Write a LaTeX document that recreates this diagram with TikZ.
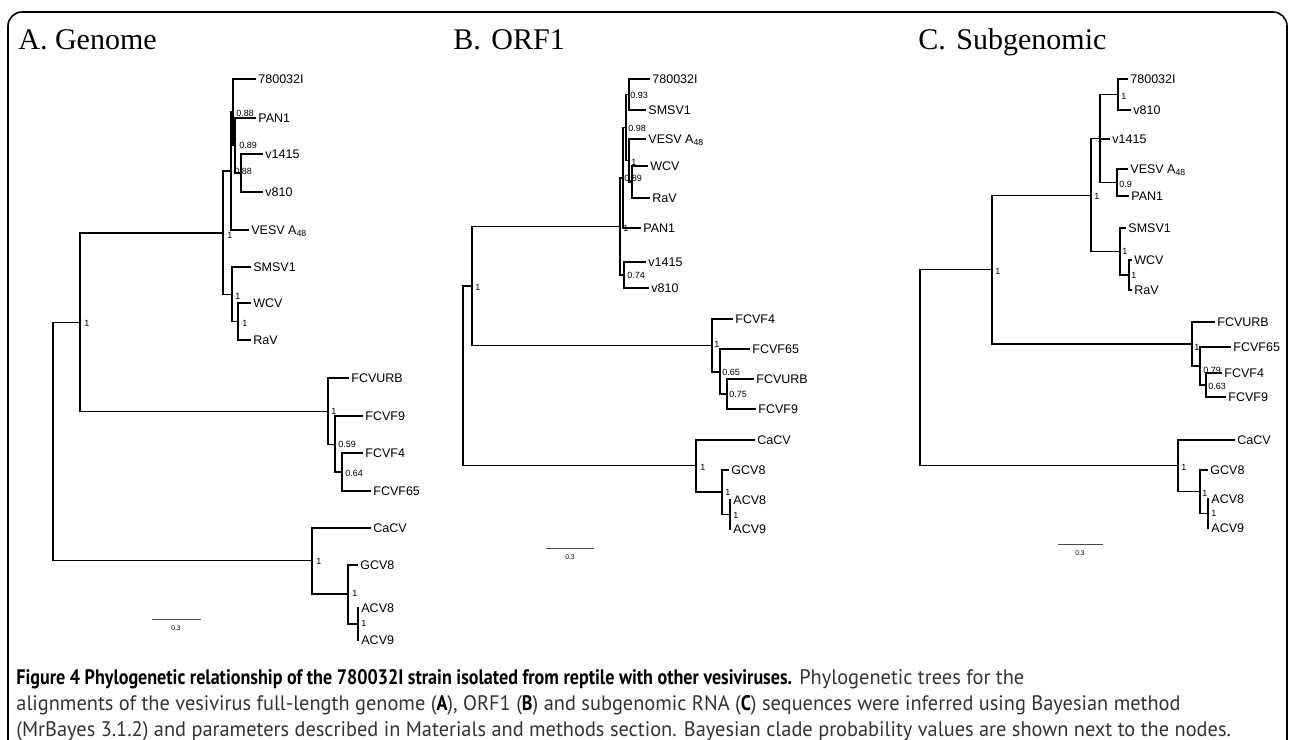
\documentclass[tikz,border=0pt]{standalone}
\usepackage{fontspec}
\setmainfont{Liberation Serif}
\newfontfamily\treefont{Liberation Sans}
\newfontfamily\capfont[FakeStretch=0.97]{PT Sans}
\newfontfamily\capbf[FakeStretch=0.86]{PT Sans Bold}
\tikzset{
  br/.style={line width=0.65pt, line cap=rect},
  taxon/.style={anchor=west, inner sep=1.5pt, text height=4.5pt, text depth=0pt, font=\treefont\fontsize{6.25}{7}\selectfont},
  prob/.style={anchor=west, inner sep=0pt, font=\treefont\fontsize{4.5}{5}\selectfont},
  sbar/.style={line width=0.5pt, black!70},
  slab/.style={inner sep=0pt, font=\treefont\fontsize{3.4}{4}\selectfont},
  paneltitle/.style={anchor=base west, inner sep=0pt, font=\fontsize{15}{17}\selectfont},
  capline/.style={anchor=base west, inner sep=0pt, font=\capfont\fontsize{10.5}{12}\selectfont, text=black!80}
}
\begin{document}
\begin{tikzpicture}[x=0.5pt,y=-0.5pt]
	\useasboundingbox (0,0) rectangle (1293,739);
	\draw[line width=0.8pt, rounded corners=7pt] (8,745) -- (8,12) -- (1287,12) -- (1287,745);
	%
	% A. Genome
	\node[paneltitle] (ttlA) at (18,49) {A. Genome};
	\coordinate (aR0) at (53,441.5);
	\coordinate (aX) at (80,322.5);
	\coordinate (aU) at (223,233);
	\coordinate (aT) at (231,171);
	\coordinate (aP) at (233,112);
	\coordinate (aQ) at (235,145.5);
	\coordinate (aR) at (241,173);
	\coordinate (aS) at (232,294.5);
	\coordinate (aW) at (238,321.5);
	\coordinate (aF) at (328,411.5);
	\coordinate (aG) at (335,444.5);
	\coordinate (aH) at (342,472);
	\coordinate (aC) at (312,560.5);
	\coordinate (aD) at (348,594);
	\coordinate (aE) at (358,624);
	\node[taxon] (a780) at (255,79) {780032I};
	\node[taxon] (aPAN) at (255,118) {PAN1};
	\node[taxon] (a1415) at (262,154) {v1415};
	\node[taxon] (a810) at (262,192) {v810};
	\node[taxon] (aVESV) at (248,230) {VESV A\textsubscript{48}};
	\node[taxon] (aSMSV) at (250,267) {SMSV1};
	\node[taxon] (aWCV) at (250,303) {WCV};
	\node[taxon] (aRaV) at (250,340) {RaV};
	\node[taxon] (aURB) at (348,378) {FCVURB};
	\node[taxon] (aF9) at (362,416) {FCVF9};
	\node[taxon] (aF4) at (362,453) {FCVF4};
	\node[taxon] (aF65) at (370,491) {FCVF65};
	\node[taxon] (aCaCV) at (370,528) {CaCV};
	\node[taxon] (aGCV8) at (357,565) {GCV8};
	\node[taxon] (aACV8) at (358,608) {ACV8};
	\node[taxon] (aACV9) at (358,640) {ACV9};
	%
	\draw[br] (aR0) |- (aX); \draw[br] (aR0) |- (aC);
	\draw[br] (aX) |- (aU); \draw[br] (aX) |- (aF);
	\draw[br] (aU) |- (aT); \draw[br] (aU) |- (aS);
	\draw[br] (aT) |- (aP); \draw[br] (aT) |- (aVESV);
	\draw[br] (aP) |- (a780); \draw[br] (aP) |- (aQ);
	\draw[br] (aQ) |- (aPAN); \draw[br] (aQ) |- (aR);
	\draw[br] (aR) |- (a1415); \draw[br] (aR) |- (a810);
	\draw[br] (aS) |- (aSMSV); \draw[br] (aS) |- (aW);
	\draw[br] (aW) |- (aWCV); \draw[br] (aW) |- (aRaV);
	\draw[br] (aF) |- (aURB); \draw[br] (aF) |- (aG);
	\draw[br] (aG) |- (aF9); \draw[br] (aG) |- (aH);
	\draw[br] (aH) |- (aF4); \draw[br] (aH) |- (aF65);
	\draw[br] (aC) |- (aCaCV); \draw[br] (aC) |- (aD);
	\draw[br] (aD) |- (aGCV8); \draw[br] (aD) |- (aE);
	\draw[br] (aE) |- (aACV8); \draw[br] (aE) |- (aACV9);
	%
	\node[prob] (aXl) at (84,323) {1};
	\node[prob] (aUl) at (227,235) {1};
	\node[prob] (aPl) at (236,113) {0.88};
	\node[prob] (aQl) at (239,145) {0.89};
	\node[prob] (aRl) at (234,171) {0.88};
	\node[prob] (aSl) at (235,296) {1};
	\node[prob] (aWl) at (242,323) {1};
	\node[prob] (aFl) at (331,411) {1};
	\node[prob] (aGl) at (338,444) {0.59};
	\node[prob] (aHl) at (345,473) {0.64};
	\node[prob] (aCl) at (316,561) {1};
	\node[prob] (aDl) at (352,593) {1};
	\node[prob] (aEl) at (361,623) {1};
	\coordinate (aSb1) at (152,619);
	\coordinate (aSb2) at (201,619);
	\draw[sbar] (aSb1) -- (aSb2);
	\node[slab] (aSbl) at (176,628) {0.3};
	%
	% B. ORF1
	\node[paneltitle] (ttlB) at (453,49) {B.\hspace{0.35em}ORF1};
	\coordinate (bR0) at (463,376);
	\coordinate (bB) at (472,286);
	\coordinate (bD) at (620,226.5);
	\coordinate (bC) at (623,178);
	\coordinate (bN) at (626,127.5);
	\coordinate (bA) at (629,94.5);
	\coordinate (bV) at (629,160.5);
	\coordinate (bW) at (632,182);
	\coordinate (bE) at (624,275);
	\coordinate (bF) at (712,345.5);
	\coordinate (bG) at (720,372);
	\coordinate (bH) at (727,394);
	\coordinate (bK) at (696,465.5);
	\coordinate (bL) at (722,492);
	\coordinate (bM) at (730,514.5);
	\node[taxon] (b780) at (649,79) {780032I};
	\node[taxon] (bSMSV) at (645,110) {SMSV1};
	\node[taxon] (bVESV) at (645,139) {VESV A\textsubscript{48}};
	\node[taxon] (bWCV) at (647,166) {WCV};
	\node[taxon] (bRaV) at (649,198) {RaV};
	\node[taxon] (bPAN) at (640,228) {PAN1};
	\node[taxon] (b1415) at (645,262) {v1415};
	\node[taxon] (b810) at (648,288) {v810};
	\node[taxon] (bF4) at (732,319) {FCVF4};
	\node[taxon] (bF65) at (749,349) {FCVF65};
	\node[taxon] (bURB) at (753,379) {FCVURB};
	\node[taxon] (bF9) at (755,409) {FCVF9};
	\node[taxon] (bCaCV) at (754,440) {CaCV};
	\node[taxon] (bGCV8) at (728,470) {GCV8};
	\node[taxon] (bACV8) at (730,500) {ACV8};
	\node[taxon] (bACV9) at (730,529) {ACV9};
	%
	\draw[br] (bR0) |- (bB); \draw[br] (bR0) |- (bK);
	\draw[br] (bB) |- (bD); \draw[br] (bB) |- (bF);
	\draw[br] (bD) |- (bC); \draw[br] (bD) |- (bE);
	\draw[br] (bC) |- (bN); \draw[br] (bC) |- (bPAN);
	\draw[br] (bN) |- (bA); \draw[br] (bN) |- (bV);
	\draw[br] (bA) |- (b780); \draw[br] (bA) |- (bSMSV);
	\draw[br] (bV) |- (bVESV); \draw[br] (bV) |- (bW);
	\draw[br] (bW) |- (bWCV); \draw[br] (bW) |- (bRaV);
	\draw[br] (bE) |- (b1415); \draw[br] (bE) |- (b810);
	\draw[br] (bF) |- (bF4); \draw[br] (bF) |- (bG);
	\draw[br] (bG) |- (bF65); \draw[br] (bG) |- (bH);
	\draw[br] (bH) |- (bURB); \draw[br] (bH) |- (bF9);
	\draw[br] (bK) |- (bCaCV); \draw[br] (bK) |- (bL);
	\draw[br] (bL) |- (bGCV8); \draw[br] (bL) |- (bM);
	\draw[br] (bM) |- (bACV8); \draw[br] (bM) |- (bACV9);
	%
	\node[prob] (bBl) at (475,287) {1};
	\node[prob] (bDl) at (623,228) {1};
	\node[prob] (bCl) at (624,178) {0.89};
	\node[prob] (bNl) at (628,128) {0.98};
	\node[prob] (bAl) at (630,95) {0.93};
	\node[prob] (bVl) at (631,162) {1};
	\node[prob] (bEl) at (627,275) {0.74};
	\node[prob] (bFl) at (714,344) {1};
	\node[prob] (bGl) at (722,372) {0.65};
	\node[prob] (bHl) at (729,394) {0.75};
	\node[prob] (bKl) at (700,467) {1};
	\node[prob] (bLl) at (725,492) {1};
	\node[prob] (bMl) at (733,515) {1};
	\coordinate (bSb1) at (546,548);
	\coordinate (bSb2) at (594,548);
	\draw[sbar] (bSb1) -- (bSb2);
	\node[slab] (bSbl) at (570,557) {0.3};
	%
	% C. Subgenomic
	\node[paneltitle] (ttlC) at (918,49) {C.\hspace{0.35em}Subgenomic};
	\coordinate (cR0) at (920,367.5);
	\coordinate (cX) at (992,269.75);
	\coordinate (cU) at (1091,195.5);
	\coordinate (cP) at (1100,138.5);
	\coordinate (cQ) at (1118,94.5);
	\coordinate (cR) at (1117,182.5);
	\coordinate (cS) at (1120,251.5);
	\coordinate (cW) at (1129,275);
	\coordinate (cF) at (1192,344);
	\coordinate (cG) at (1200,366);
	\coordinate (cH) at (1206,385);
	\coordinate (cK) at (1178,465.5);
	\coordinate (cL) at (1200,491.5);
	\coordinate (cM) at (1208,513.5);
	\node[taxon] (c780) at (1127,79) {780032I};
	\node[taxon] (c810) at (1130,110) {v810};
	\node[taxon] (c1415) at (1109,139) {v1415};
	\node[taxon] (cVESV) at (1127,169) {VESV A\textsubscript{48}};
	\node[taxon] (cPAN) at (1128,196) {PAN1};
	\node[taxon] (cSMSV) at (1125,228) {SMSV1};
	\node[taxon] (cWCV) at (1131,260) {WCV};
	\node[taxon] (cRaV) at (1131,290) {RaV};
	\node[taxon] (cURB) at (1214,322) {FCVURB};
	\node[taxon] (cF65) at (1230,347) {FCVF65};
	\node[taxon] (cF4) at (1221,373) {FCVF4};
	\node[taxon] (cF9) at (1225,397) {FCVF9};
	\node[taxon] (cCaCV) at (1234,440) {CaCV};
	\node[taxon] (cGCV8) at (1207,470) {GCV8};
	\node[taxon] (cACV8) at (1208,499) {ACV8};
	\node[taxon] (cACV9) at (1208,528) {ACV9};
	%
	\draw[br] (cR0) |- (cX); \draw[br] (cR0) |- (cK);
	\draw[br] (cX) |- (cU); \draw[br] (cX) |- (cF);
	\draw[br] (cU) |- (cP); \draw[br] (cU) |- (cS);
	\draw[br] (cP) |- (cQ); \draw[br] (cP) |- (c1415); \draw[br] (cP) |- (cR);
	\draw[br] (cQ) |- (c780); \draw[br] (cQ) |- (c810);
	\draw[br] (cR) |- (cVESV); \draw[br] (cR) |- (cPAN);
	\draw[br] (cS) |- (cSMSV); \draw[br] (cS) |- (cW);
	\draw[br] (cW) |- (cWCV); \draw[br] (cW) |- (cRaV);
	\draw[br] (cF) |- (cURB); \draw[br] (cF) |- (cG);
	\draw[br] (cG) |- (cF65); \draw[br] (cG) |- (cH);
	\draw[br] (cH) |- (cF4); \draw[br] (cH) |- (cF9);
	\draw[br] (cK) |- (cCaCV); \draw[br] (cK) |- (cL);
	\draw[br] (cL) |- (cGCV8); \draw[br] (cL) |- (cM);
	\draw[br] (cM) |- (cACV8); \draw[br] (cM) |- (cACV9);
	%
	\node[prob] (cXl) at (995,271) {1};
	\node[prob] (cUl) at (1094,196) {1};
	\node[prob] (cPl) at (1097,139) {1};
	\node[prob] (cQl) at (1121,96) {1};
	\node[prob] (cRl) at (1119,184) {0.9};
	\node[prob] (cSl) at (1122,251) {1};
	\node[prob] (cWl) at (1131,275) {1};
	\node[prob] (cFl) at (1194,347) {1};
	\node[prob] (cGl) at (1203,370) {0.79};
	\node[prob] (cHl) at (1208,386) {0.63};
	\node[prob] (cKl) at (1181,467) {1};
	\node[prob] (cLl) at (1202,493) {1};
	\node[prob] (cMl) at (1211,513) {1};
	\coordinate (cSb1) at (1058,544);
	\coordinate (cSb2) at (1103,544);
	\draw[sbar] (cSb1) -- (cSb2);
	\node[slab] (cSbl) at (1080,553) {0.3};
	%
	% caption
	\node[capline] (cap1) at (16,684) {{\capbf\color{black}Figure 4 Phylogenetic relationship of the 780032I strain isolated from reptile with other vesiviruses.} Phylogenetic trees for the};
	\node[capline] (cap2) at (16,710) {alignments of the vesivirus full-length genome ({\capbf\color{black}A}), ORF1 ({\capbf\color{black}B}) and subgenomic RNA ({\capbf\color{black}C}) sequences were inferred using Bayesian method};
	\node[capline] (cap3) at (16,736) {(MrBayes 3.1.2) and parameters described in Materials and methods section. Bayesian clade probability values are shown next to the nodes.};
\end{tikzpicture}
\end{document}
